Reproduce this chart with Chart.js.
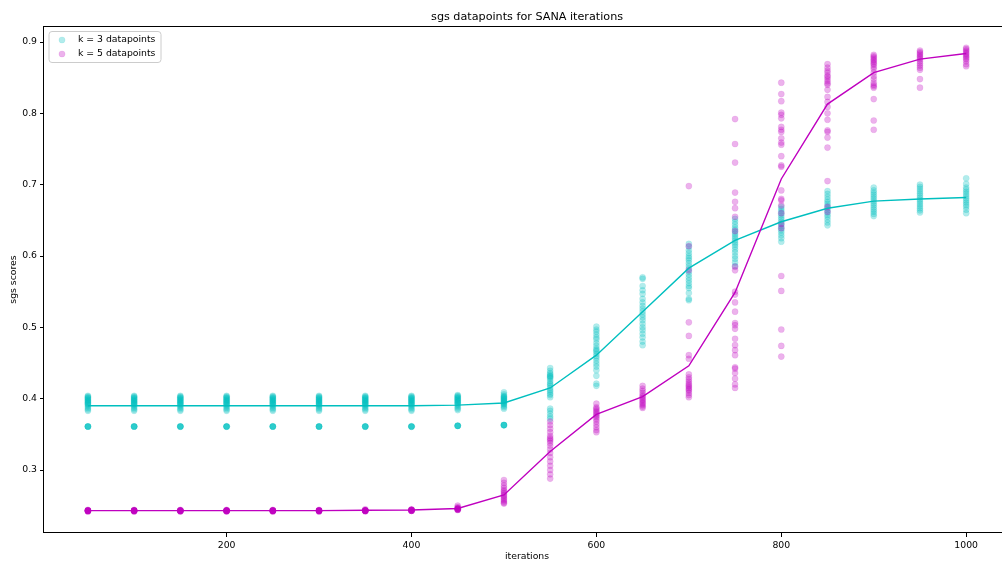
<!DOCTYPE html>
<html><head><meta charset="utf-8">
<script src="https://cdn.jsdelivr.net/npm/chart.js@4.4.0/dist/chart.umd.min.js"></script>
<style>html,body{margin:0;padding:0;overflow:hidden;background:#fff;width:1002px;height:565px}
#wrap{width:1014px;height:565px}</style></head>
<body><div id="wrap"><canvas id="c" width="1014" height="565"></canvas></div>
<script>
const titleText = 'sgs datapoints for SANA iterations';
const xLabel = 'iterations';
const yLabel = 'sgs scores';
const k3Label = 'k = 3 datapoints';
const k5Label = 'k = 5 datapoints';
const iterations = [50,100,150,200,250,300,350,400,450,500,550,600,650,700,750,800,850,900,950,1000];
const xTicks = [200,400,600,800,1000];
const yTicks = [0.3,0.4,0.5,0.6,0.7,0.8,0.9];

const k3Mean = [0.390,0.390,0.390,0.390,0.390,0.390,0.390,0.390,0.391,0.394,0.415,0.461,0.522,0.583,0.622,0.648,0.667,0.677,0.680,0.682];
const k5Mean = [0.243,0.243,0.243,0.243,0.243,0.243,0.2435,0.244,0.246,0.265,0.326,0.378,0.403,0.446,0.549,0.708,0.813,0.857,0.876,0.884];

const k3Points = [
 [0.404,0.403,0.402,0.401,0.400,0.399,0.398,0.397,0.396,0.395,0.394,0.393,0.392,0.391,0.389,0.387,0.385,0.383,0.361,0.361,0.361,0.361,0.361],
 [0.404,0.403,0.402,0.401,0.400,0.399,0.398,0.397,0.396,0.395,0.394,0.393,0.392,0.391,0.389,0.387,0.385,0.383,0.361,0.361,0.361,0.361,0.361],
 [0.404,0.403,0.402,0.401,0.400,0.399,0.398,0.397,0.396,0.395,0.394,0.393,0.392,0.391,0.389,0.387,0.385,0.383,0.361,0.361,0.361,0.361,0.361],
 [0.404,0.403,0.402,0.401,0.400,0.399,0.398,0.397,0.396,0.395,0.394,0.393,0.392,0.391,0.389,0.387,0.385,0.383,0.361,0.361,0.361,0.361,0.361],
 [0.404,0.403,0.402,0.401,0.400,0.399,0.398,0.397,0.396,0.395,0.394,0.393,0.392,0.391,0.389,0.387,0.385,0.383,0.361,0.361,0.361,0.361,0.361],
 [0.404,0.403,0.402,0.401,0.400,0.399,0.398,0.397,0.396,0.395,0.394,0.393,0.392,0.391,0.389,0.387,0.385,0.383,0.361,0.361,0.361,0.361,0.361],
 [0.404,0.403,0.402,0.401,0.400,0.399,0.398,0.397,0.396,0.395,0.394,0.393,0.392,0.391,0.389,0.387,0.385,0.383,0.361,0.361,0.361,0.361,0.361],
 [0.404,0.403,0.402,0.401,0.400,0.399,0.398,0.397,0.396,0.395,0.394,0.393,0.392,0.391,0.389,0.387,0.385,0.383,0.361,0.361,0.361,0.361,0.361],
 [0.405,0.404,0.403,0.402,0.401,0.400,0.399,0.398,0.397,0.396,0.395,0.394,0.393,0.392,0.390,0.388,0.386,0.384,0.362,0.362,0.362,0.362,0.362],
 [0.409,0.406,0.404,0.403,0.402,0.401,0.400,0.399,0.398,0.397,0.396,0.395,0.394,0.393,0.392,0.390,0.388,0.386,0.363,0.363,0.363,0.363,0.363],
 [0.443,0.439,0.436,0.434,0.432,0.431,0.430,0.428,0.425,0.422,0.420,0.418,0.415,0.412,0.410,0.407,0.405,0.402,0.386,0.383,0.379,0.375,0.372],
 [0.501,0.497,0.494,0.490,0.486,0.483,0.478,0.474,0.470,0.468,0.466,0.463,0.460,0.457,0.453,0.449,0.445,0.440,0.432,0.421,0.418],
 [0.570,0.568,0.558,0.552,0.547,0.540,0.535,0.530,0.526,0.522,0.518,0.514,0.510,0.505,0.500,0.496,0.491,0.486,0.480,0.475],
 [0.617,0.613,0.608,0.604,0.600,0.597,0.594,0.590,0.586,0.582,0.578,0.574,0.570,0.566,0.562,0.558,0.555,0.548,0.540,0.538],
 [0.652,0.648,0.644,0.640,0.637,0.634,0.631,0.628,0.625,0.622,0.619,0.616,0.613,0.609,0.605,0.600,0.596,0.591,0.586],
 [0.669,0.666,0.663,0.660,0.657,0.654,0.651,0.648,0.645,0.642,0.639,0.636,0.633,0.629,0.625,0.620],
 [0.691,0.687,0.683,0.679,0.676,0.673,0.670,0.667,0.664,0.661,0.658,0.655,0.651,0.647,0.643],
 [0.696,0.692,0.689,0.686,0.683,0.680,0.677,0.674,0.671,0.668,0.665,0.662,0.659,0.656],
 [0.700,0.697,0.694,0.691,0.688,0.685,0.682,0.679,0.676,0.673,0.670,0.667,0.664,0.661],
 [0.709,0.701,0.696,0.693,0.690,0.687,0.684,0.681,0.678,0.675,0.672,0.669,0.665,0.660]
];

const k5Points = [
 [0.244,0.243,0.243,0.243,0.243,0.243,0.243,0.243,0.243,0.243,0.242,0.242],
 [0.244,0.243,0.243,0.243,0.243,0.243,0.243,0.243,0.243,0.243,0.242,0.242],
 [0.244,0.243,0.243,0.243,0.243,0.243,0.243,0.243,0.243,0.243,0.242,0.242],
 [0.244,0.243,0.243,0.243,0.243,0.243,0.243,0.243,0.243,0.243,0.242,0.242],
 [0.244,0.243,0.243,0.243,0.243,0.243,0.243,0.243,0.243,0.243,0.242,0.242],
 [0.244,0.243,0.243,0.243,0.243,0.243,0.243,0.243,0.243,0.243,0.242,0.242],
 [0.245,0.244,0.243,0.243,0.243,0.243,0.243,0.243,0.243,0.243,0.243,0.242],
 [0.245,0.244,0.244,0.244,0.244,0.244,0.243,0.243,0.243,0.243,0.243,0.243],
 [0.250,0.248,0.247,0.246,0.246,0.246,0.245,0.245,0.245,0.245,0.244,0.244],
 [0.286,0.282,0.278,0.275,0.272,0.270,0.268,0.266,0.264,0.262,0.260,0.258,0.256,0.254,0.253],
 [0.368,0.363,0.358,0.353,0.348,0.345,0.343,0.341,0.338,0.334,0.329,0.324,0.318,0.312,0.306,0.300,0.294,0.288],
 [0.393,0.388,0.386,0.384,0.382,0.380,0.378,0.376,0.374,0.371,0.368,0.364,0.360,0.356,0.353],
 [0.418,0.414,0.411,0.408,0.405,0.403,0.401,0.399,0.397,0.395,0.393,0.391,0.389,0.387],
 [0.698,0.614,0.580,0.507,0.488,0.461,0.456,0.434,0.430,0.427,0.424,0.421,0.419,0.417,0.415,0.413,0.411,0.408,0.405,0.402],
 [0.792,0.757,0.731,0.689,0.676,0.667,0.655,0.635,0.585,0.580,0.550,0.546,0.535,0.522,0.506,0.503,0.498,0.484,0.475,0.468,0.461,0.444,0.442,0.436,0.428,0.420,0.415],
 [0.843,0.827,0.817,0.801,0.798,0.793,0.781,0.777,0.774,0.765,0.759,0.756,0.740,0.727,0.725,0.692,0.680,0.678,0.671,0.660,0.645,0.639,0.572,0.551,0.497,0.474,0.459],
 [0.869,0.864,0.860,0.857,0.853,0.851,0.848,0.845,0.842,0.840,0.833,0.823,0.816,0.809,0.800,0.791,0.776,0.774,0.766,0.752,0.705,0.669,0.662],
 [0.882,0.880,0.878,0.876,0.874,0.872,0.870,0.868,0.865,0.862,0.857,0.852,0.848,0.843,0.840,0.838,0.836,0.820,0.790,0.777],
 [0.888,0.886,0.884,0.882,0.880,0.878,0.876,0.873,0.870,0.867,0.864,0.861,0.848,0.836],
 [0.892,0.890,0.888,0.886,0.884,0.882,0.880,0.878,0.876,0.873,0.869,0.866]
];

const FAMILY = '"DejaVu Sans", sans-serif';
const smallFont = {family: FAMILY, size: 9.3, weight: 'normal'};
const cyanFill = 'rgba(0,191,191,0.3)';
const magFill = 'rgba(191,0,191,0.3)';
const cyanEdge = 'rgba(0,191,191,0.12)';
const magEdge = 'rgba(191,0,191,0.12)';

const toPoints = rows => rows.flatMap((r, i) => r.map(v => ({x: iterations[i], y: v})));
const toLine = m => m.map((v, i) => ({x: iterations[i], y: v}));

const framePlugin = {
  id: 'frame',
  afterDatasetsDraw(chart) {
    const {ctx, chartArea: a} = chart;
    ctx.save();
    ctx.strokeStyle = '#000';
    ctx.lineWidth = 1;
    ctx.strokeRect(Math.round(a.left) - 0.5, Math.round(a.top) + 0.5, Math.round(a.right - a.left) + 1, Math.round(a.bottom - a.top) - 1);
    ctx.restore();
  }
};

const legendPlugin = {
  id: 'mplLegend',
  afterDraw(chart) {
    const {ctx} = chart;
    const x0 = 49, y0 = 31.5, w = 112, h = 31, r = 3;
    ctx.save();
    ctx.beginPath();
    ctx.moveTo(x0 + r, y0);
    ctx.lineTo(x0 + w - r, y0); ctx.quadraticCurveTo(x0 + w, y0, x0 + w, y0 + r);
    ctx.lineTo(x0 + w, y0 + h - r); ctx.quadraticCurveTo(x0 + w, y0 + h, x0 + w - r, y0 + h);
    ctx.lineTo(x0 + r, y0 + h); ctx.quadraticCurveTo(x0, y0 + h, x0, y0 + h - r);
    ctx.lineTo(x0, y0 + r); ctx.quadraticCurveTo(x0, y0, x0 + r, y0);
    ctx.closePath();
    ctx.fillStyle = 'rgba(255,255,255,0.8)';
    ctx.fill();
    ctx.strokeStyle = '#cccccc';
    ctx.lineWidth = 1;
    ctx.stroke();
    const items = chart.data.datasets.filter(d => d.showInLegend);
    items.forEach((d, i) => {
      const cy = 40 + i * 14;
      ctx.beginPath();
      ctx.arc(62, cy, 3.1, 0, Math.PI * 2);
      ctx.fillStyle = d.backgroundColor;
      ctx.fill();
      ctx.strokeStyle = d.borderColor;
      ctx.lineWidth = 0.8;
      ctx.stroke();
      ctx.fillStyle = '#000';
      ctx.font = '9.3px ' + FAMILY;
      ctx.textAlign = 'left';
      ctx.textBaseline = 'middle';
      ctx.fillText(d.label, 78, cy - 0.5);
    });
    ctx.restore();
  }
};

new Chart(document.getElementById('c'), {
  type: 'scatter',
  data: {
    datasets: [
      {label: k3Label, showInLegend: true, data: toPoints(k3Points), backgroundColor: cyanFill, borderColor: cyanEdge, borderWidth: 0.8, pointRadius: 3.1, pointHoverRadius: 3.1, order: 3},
      {label: k5Label, showInLegend: true, data: toPoints(k5Points), backgroundColor: magFill, borderColor: magEdge, borderWidth: 0.8, pointRadius: 3.1, pointHoverRadius: 3.1, order: 2},
      {type: 'line', label: 'k = 3 mean', data: toLine(k3Mean), borderColor: '#00bfbf', backgroundColor: '#00bfbf', borderWidth: 1.4, pointRadius: 0, fill: false, tension: 0, order: 1},
      {type: 'line', label: 'k = 5 mean', data: toLine(k5Mean), borderColor: '#bf00bf', backgroundColor: '#bf00bf', borderWidth: 1.4, pointRadius: 0, fill: false, tension: 0, order: 0}
    ]
  },
  options: {
    responsive: false,
    animation: false,
    devicePixelRatio: 1,
    layout: {padding: {left: 0, right: 3, top: 0, bottom: 0}},
    plugins: {
      legend: {display: false},
      tooltip: {enabled: false},
      title: {display: true, text: titleText, fullSize: false, color: '#000',
              font: {family: FAMILY, size: 11.2, weight: 'normal'}, padding: {top: 10.3, bottom: 2.3}}
    },
    scales: {
      x: {
        type: 'linear', min: 2.5, max: 1047.5,
        afterBuildTicks: s => { s.ticks = xTicks.map(v => ({value: v})); },
        afterFit: s => { s.height = 32; },
        grid: {drawOnChartArea: false, drawTicks: true, tickLength: 4, tickColor: '#000', tickWidth: 1},
        border: {display: false},
        ticks: {font: smallFont, color: '#000', padding: 3, maxRotation: 0, autoSkip: false, callback: v => String(v)},
        title: {display: true, text: xLabel, color: '#000', font: smallFont, padding: {top: 0, bottom: 2.4}}
      },
      y: {
        type: 'linear', min: 0.2117, max: 0.9224,
        afterBuildTicks: s => { s.ticks = yTicks.map(v => ({value: v})); },
        afterFit: s => { s.width = 44; },
        grid: {drawOnChartArea: false, drawTicks: true, tickLength: 4, tickColor: '#000', tickWidth: 1},
        border: {display: false},
        ticks: {font: smallFont, color: '#000', padding: 3, autoSkip: false, callback: v => Number(v).toFixed(1)},
        title: {display: true, text: yLabel, color: '#000', font: smallFont, padding: {top: 8.4, bottom: 0}}
      }
    }
  },
  plugins: [framePlugin, legendPlugin]
});
</script>
</body></html>
